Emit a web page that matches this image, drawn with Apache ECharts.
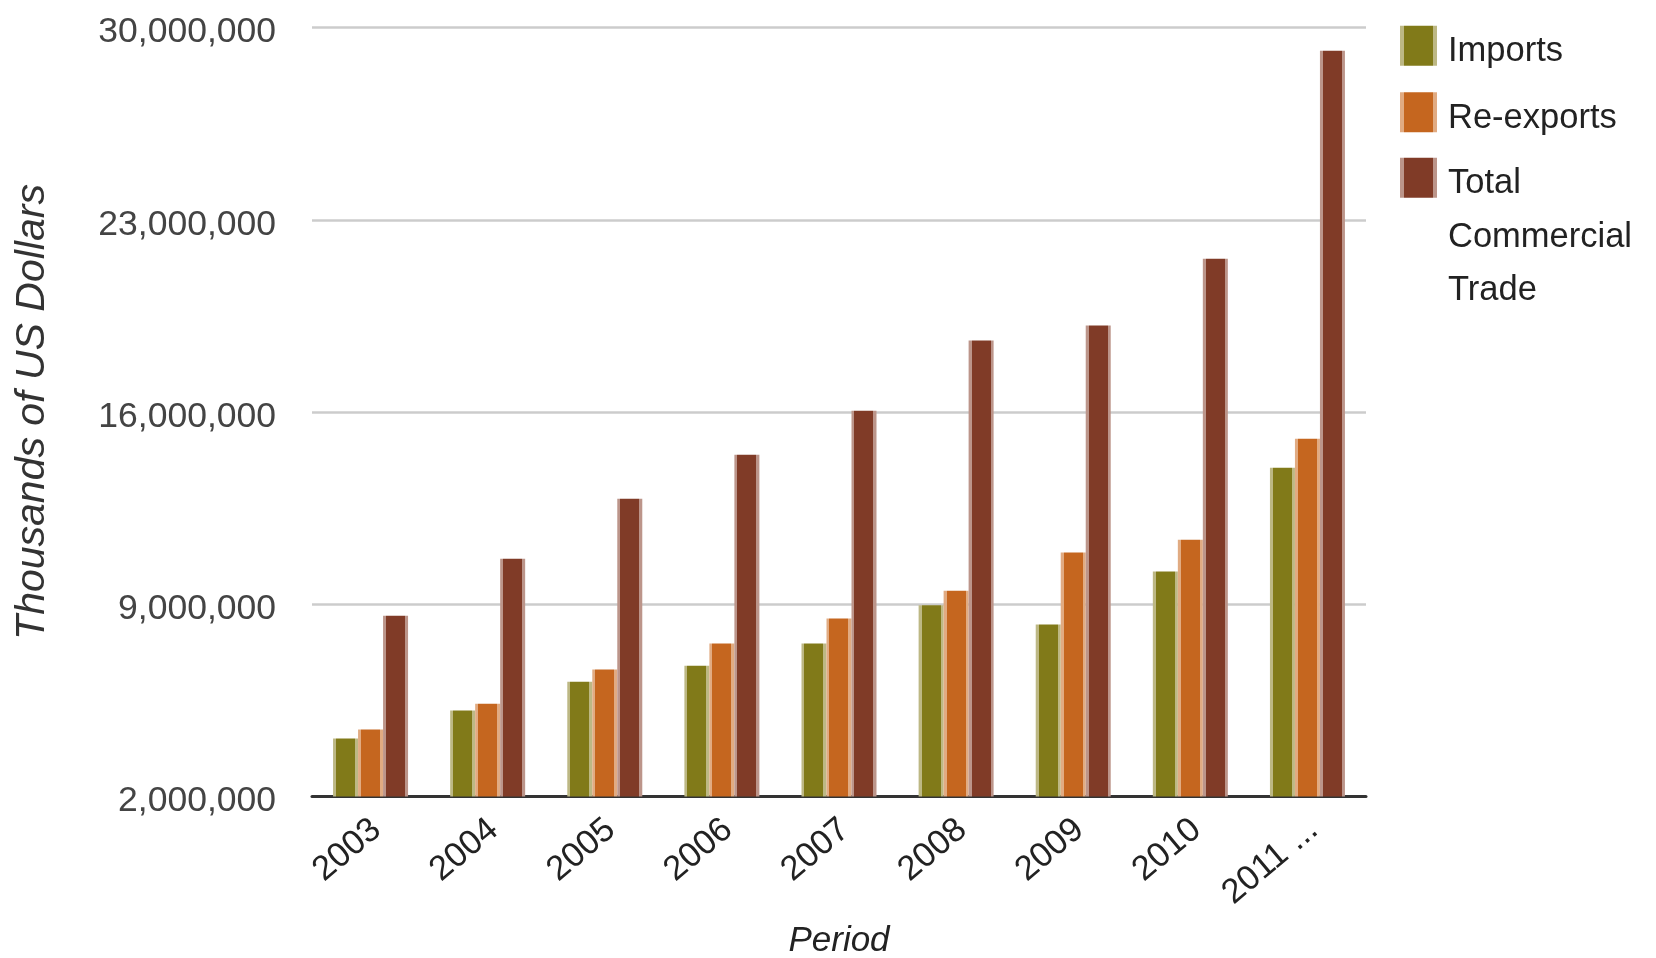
<!DOCTYPE html>
<html>
<head>
<meta charset="utf-8">
<title>Commercial Trade 2003–2011</title>
<script src="https://cdn.jsdelivr.net/npm/echarts@6/dist/echarts.min.js"></script>
<style>
  html, body { margin: 0; padding: 0; background: #ffffff; }
  #chart { width: 1656px; height: 958px; }
</style>
</head>
<body>
<div id="chart"></div>
<script>
// Trade figures, thousands of US dollars
const categories = ['2003', '2004', '2005', '2006', '2007', '2008', '2009', '2010', '2011 ...'];
const imports    = [4110000, 5130000, 6180000, 6760000, 7570000, 8960000, 8260000, 10190000, 13970000];
const reexports  = [4440000, 5380000, 6620000, 7570000, 8480000, 9490000, 10880000, 11350000, 15030000];
const totals     = [8580000, 10660000, 12840000, 14440000, 16050000, 18600000, 19150000, 21580000, 29150000];

const seriesNames = ['Imports', 'Re-exports', 'Total Commercial Trade'];
const yTicks = { min: 2000000, max: 30000000, step: 7000000 };

const FONT = "'Liberation Sans', Arial, sans-serif";

// bar fill with a pale strip down each side
function barFill(dark, light) {
  return new echarts.graphic.LinearGradient(0, 0, 1, 0, [
    { offset: 0, color: light }, { offset: 0.12, color: light },
    { offset: 0.12, color: dark }, { offset: 0.88, color: dark },
    { offset: 0.88, color: light }, { offset: 1, color: light }
  ]);
}

const fills = [
  barFill('#817a19', '#bdb884'),
  barFill('#c5661f', '#e1ab82'),
  barFill('#803b27', '#bc958a')
];

const chart = echarts.init(document.getElementById('chart'));

// legend labels sit a little below the swatch centre
const legendText = {
  fontFamily: FONT,
  fontSize: 34.5,
  color: '#222222',
  lineHeight: 53.5,
  rich: {
    t: { fontFamily: FONT, fontSize: 34.5, color: '#222222', lineHeight: 53.5, padding: [12, 0, 0, 6] }
  }
};

chart.setOption({
  animation: false,
  backgroundColor: '#ffffff',
  grid: { left: 312, right: 290, top: 27.5, height: 769, outerBoundsMode: 'none' },
  legend: [
    {
      data: [seriesNames[0], seriesNames[1]],
      orient: 'vertical',
      left: 1400,
      top: 19,
      padding: 0,
      icon: 'rect',
      itemWidth: 37,
      itemHeight: 40,
      itemGap: 13,
      selectedMode: false,
      formatter: function (name) { return '{t|' + name + '}'; },
      textStyle: legendText
    },
    {
      data: [seriesNames[2]],
      orient: 'vertical',
      left: 1400,
      top: 44,
      padding: 0,
      icon: 'rect',
      itemWidth: 37,
      itemHeight: 40,
      selectedMode: false,
      // wrapped over three lines, first line level with the swatch
      formatter: function (name) {
        return '\n\n' + name.split(' ').map(function (w) { return '{t|' + w + '}'; }).join('\n');
      },
      textStyle: legendText
    }
  ],
  xAxis: {
    type: 'category',
    data: categories,
    name: 'Period',
    nameLocation: 'middle',
    nameGap: 127,
    nameTextStyle: { fontFamily: FONT, fontSize: 35, fontStyle: 'italic', color: '#222222' },
    axisLine: { lineStyle: { color: '#333333', width: 3 } },
    axisTick: { show: false },
    axisLabel: {
      interval: 0,
      rotate: 40,
      margin: 34,
      formatter: function (v) { return '{c|' + v + '}'; },
      rich: {
        c: { fontFamily: FONT, fontSize: 34.5, color: '#222222', padding: [0, -8, 0, 0] }
      }
    }
  },
  yAxis: {
    type: 'value',
    min: yTicks.min,
    max: yTicks.max,
    interval: yTicks.step,
    name: 'Thousands of US Dollars',
    nameLocation: 'middle',
    nameGap: 259,
    nameTextStyle: { fontFamily: FONT, fontSize: 41, fontStyle: 'italic', color: '#333333' },
    axisLine: { show: false },
    axisTick: { show: false },
    splitLine: { lineStyle: { color: '#cccccc', width: 2.5 } },
    axisLabel: {
      margin: 36,
      formatter: function (v) { return '{n|' + v.toLocaleString('en-US') + '}'; },
      rich: {
        n: { fontFamily: FONT, fontSize: 35.5, color: '#444444', padding: [10, 0, 0, 0] }
      }
    }
  },
  series: [
    { name: seriesNames[0], type: 'bar', data: imports,   barWidth: 25, barGap: '0%', itemStyle: { color: fills[0] } },
    { name: seriesNames[1], type: 'bar', data: reexports, barWidth: 25, barGap: '0%', itemStyle: { color: fills[1] } },
    { name: seriesNames[2], type: 'bar', data: totals,    barWidth: 25, barGap: '0%', itemStyle: { color: fills[2] } }
  ]
});
</script>
</body>
</html>
